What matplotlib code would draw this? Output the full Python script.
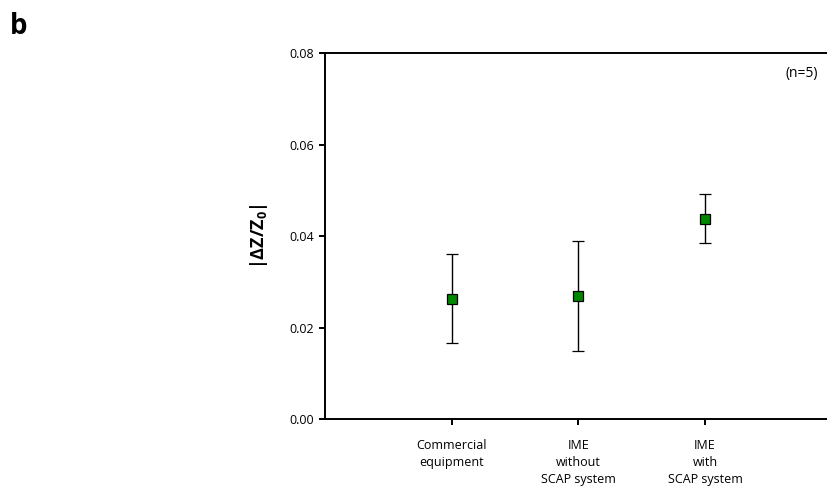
import numpy as np
import matplotlib.pyplot as plt

plt.rcParams['font.family'] = ['Open Sans', 'DejaVu Sans']
plt.rcParams['mathtext.fontset'] = 'custom'
plt.rcParams['mathtext.rm'] = 'Open Sans'
plt.rcParams['mathtext.bf'] = 'Open Sans:bold'

categories = ["Commercial\nequipment", "IME\nwithout\nSCAP system", "IME\nwith\nSCAP system"]
means = [0.0263, 0.0270, 0.0438]
errors = [0.0097, 0.0120, 0.0054]

fig = plt.figure(figsize=(8.28, 4.88), dpi=100)
ax = fig.add_axes([0.3925, 0.1408, 0.612, 0.7506])

x = np.arange(1, len(categories) + 1)
ax.errorbar(x, means, yerr=errors, fmt='s', color='#008800', markersize=7.5,
            markeredgecolor='black', markeredgewidth=0.9,
            ecolor='black', elinewidth=1.0, capsize=4, capthick=1.0, zorder=3)

ax.set_xlim(0, 4)
ax.set_ylim(0, 0.08)
ax.set_yticks([0.0, 0.02, 0.04, 0.06, 0.08])
ax.set_yticklabels(["0.00", "0.02", "0.04", "0.06", "0.08"])
ax.set_xticks(x)
ax.set_xticklabels(categories, linespacing=1.4)

for side in ['left', 'bottom', 'top']:
    ax.spines[side].set_linewidth(1.4)
ax.spines['right'].set_visible(False)

ax.tick_params(axis='y', direction='out', length=4, width=1.4, labelsize=9, pad=4)
ax.tick_params(axis='x', direction='out', length=4, width=1.4, labelsize=9, pad=10)

ax.set_ylabel(r"|ΔZ/Z$_\mathbf{0}$|", fontsize=13, fontweight='bold', labelpad=14)

ax.text(0.972, 0.945, "(n=5)", transform=ax.transAxes, ha='right', va='center', fontsize=10)

fig.text(0.012, 0.945, "b", fontsize=20, fontweight='bold', va='center', ha='left')

fig.savefig("out.png", dpi=100)
